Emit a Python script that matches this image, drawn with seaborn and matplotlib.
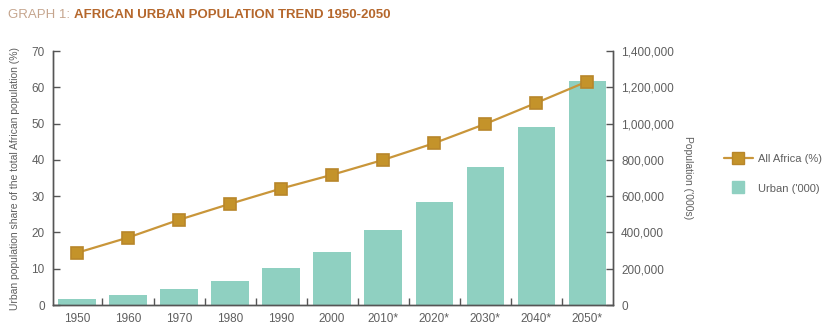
import matplotlib
matplotlib.use("Agg")
import matplotlib.pyplot as plt
from matplotlib.ticker import FuncFormatter, FixedLocator
from matplotlib.lines import Line2D
import seaborn as sns
import pandas as pd

sns.set_theme(style="white")
FONT = ["Liberation Sans", "DejaVu Sans"]
plt.rcParams["font.family"] = FONT

# Data
years = ["1950", "1960", "1970", "1980", "1990", "2000",
         "2010*", "2020*", "2030*", "2040*", "2050*"]
urban_share_pct = [14.4, 18.6, 23.5, 27.9, 32.1, 35.9, 40.0, 44.6, 49.9, 55.7, 61.6]
urban_pop_000 = [33000, 53000, 86000, 133000, 203000, 294000,
                 413000, 569000, 761000, 983000, 1233000]

df = pd.DataFrame({"year": years, "share": urban_share_pct, "pop": urban_pop_000})

BAR = "#8fd0c1"
LINE = "#c9963a"
MARK = "#c4932a"
MARK_EDGE = "#b8862a"
TXT = "#5f5f5f"
SPINE = "#555555"

fig = plt.figure(figsize=(8.28, 3.27), dpi=100)
ax = fig.add_axes([0.064, 0.067, 0.676, 0.777])
ax2 = ax.twinx()

# Urban population bars on the right-hand axis
sns.barplot(data=df, x="year", y="pop", color=BAR, width=0.73,
            saturation=1, ax=ax2, order=years, edgecolor="none", linewidth=0)

# Urban share line on the left-hand axis, kept in front of the bars
sns.pointplot(data=df, x="year", y="share", color=LINE, markers="s",
              order=years, ax=ax, linewidth=1.6, markersize=8.5,
              markerfacecolor=MARK, markeredgecolor=MARK_EDGE)
ax.set_zorder(ax2.get_zorder() + 1)
ax.patch.set_visible(False)

ax.set_xlim(-0.47, 10.5)
ax.set_ylim(0, 70)
ax2.set_ylim(0, 1400000)
ax.set_yticks(range(0, 71, 10))
ax2.set_yticks(range(0, 1400001, 200000))
ax2.yaxis.set_major_formatter(FuncFormatter(lambda v, p: f"{int(v):,}"))

ax.set_xlabel("")
ax2.set_xlabel("")
ax.set_ylabel("Urban population share of the total African population (%)",
              fontsize=7.5, color=TXT, labelpad=8)
ax2.set_ylabel("Population ('000s)", fontsize=7.5, color=TXT, rotation=270,
               labelpad=14)

for a in (ax, ax2):
    for s in a.spines.values():
        s.set_color(SPINE)
        s.set_linewidth(1.0)
    a.spines["top"].set_visible(False)

ax.tick_params(axis="y", direction="in", length=5, width=1, color=SPINE,
               labelsize=8.5, labelcolor=TXT, left=True, pad=6)
ax2.tick_params(axis="y", direction="in", length=5, width=1, color=SPINE,
                labelsize=8.5, labelcolor=TXT, right=True, pad=6)
ax.tick_params(axis="x", length=0, labelsize=8.5, labelcolor=TXT, pad=6)
ax2.tick_params(axis="x", length=0)
ax.xaxis.set_minor_locator(FixedLocator([i + 0.5 for i in range(10)]))
ax.tick_params(axis="x", which="minor", direction="in", length=5, width=1,
               color=SPINE, bottom=True)
ax.grid(False)
ax2.grid(False)

# Title: light prefix followed by the bold heading
t1 = fig.text(0.010, 0.955, "GRAPH 1: ", fontsize=9.5, color="#c5a58e",
              ha="left", va="center")
ax.annotate("AFRICAN URBAN POPULATION TREND 1950-2050",
            xy=(1, 0.5), xycoords=t1, ha="left", va="center",
            fontsize=9.5, color="#b5672c", fontweight="bold",
            annotation_clip=False)

# Legend
handles = [
    Line2D([0], [0], color=LINE, lw=1.6, marker="s", markersize=9,
           markerfacecolor=MARK, markeredgecolor=MARK_EDGE),
    Line2D([0], [0], color="none", marker="s", markersize=9,
           markerfacecolor=BAR, markeredgecolor=BAR),
]
fig.legend(handles, ["All Africa (%)", "Urban ('000)"],
           loc="center left", bbox_to_anchor=(0.862, 0.47),
           frameon=False, fontsize=8, labelcolor=TXT,
           handlelength=2.6, handleheight=1.2, labelspacing=1.6,
           handletextpad=0.5)

fig.savefig("out.png", dpi=100)
